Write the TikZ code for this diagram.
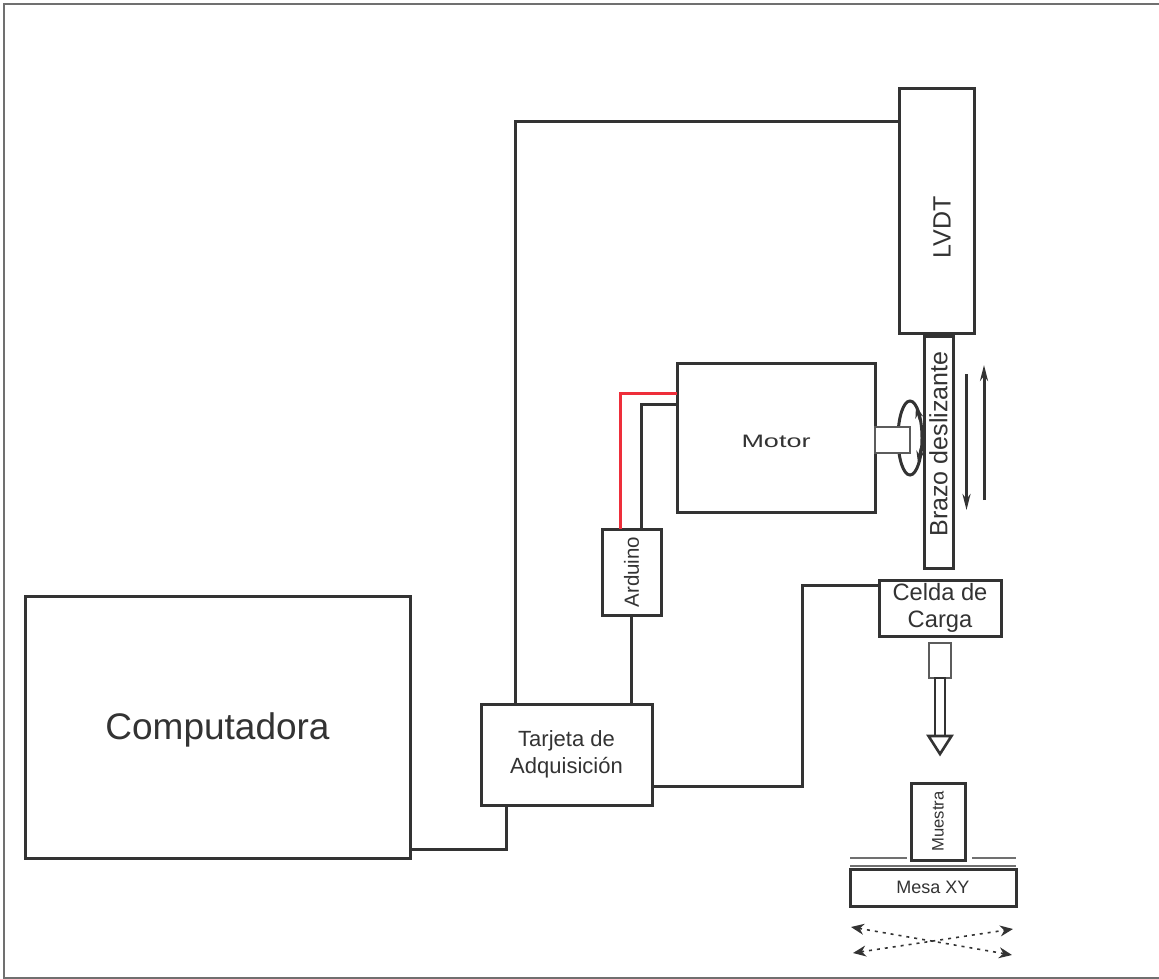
\documentclass[tikz,border=0pt]{standalone}
\usepackage{fontspec}
\setmainfont{Liberation Sans}
\usetikzlibrary{arrows.meta,positioning,shapes.geometric}
\definecolor{ink}{HTML}{333333}
\definecolor{redwire}{HTML}{EE2E3A}
\newcommand{\sz}[1]{\fontsize{#1}{#1}\selectfont}

\begin{document}
\begin{tikzpicture}[
  x=1pt, y=1pt,
  box/.style={draw=ink, line width=3pt, outer sep=0pt, inner sep=0pt, align=center, text=ink, fill=white},
  part/.style={draw=ink!80, line width=1.5pt, outer sep=0pt, inner sep=0pt, fill=white},
  caption/.style={text=ink, inner sep=0pt},
  wire/.style={draw=ink, line width=3pt},
  slide/.style={draw=ink, line width=3pt, -{Stealth[length=16pt, width=8pt]}},
  spin/.style={draw=ink, line width=2.5pt, -{Stealth[length=12pt, width=8pt]}},
  rail/.style={draw=ink!70, line width=1.6pt},
  travel/.style={draw=ink, line width=1.6pt, dash pattern=on 3pt off 5pt, {Stealth[length=13pt, width=11pt]}-{Stealth[length=13pt, width=11pt]}},
]
\useasboundingbox (0,0) rectangle (1159,-979);
% --- frame ---
\node[draw=ink!70, line width=2.5pt, minimum width=1158pt, minimum height=974pt, outer sep=0pt] (frame) at (583,-491) {};
% --- computer and acquisition card ---
\node[box, minimum width=385pt, minimum height=262pt] (comp) at (217.5,-727) {};
\node[caption, font=\sz{37}, yshift=-3pt] (compname) at (comp.center) {Computadora};
\node[box, minimum width=171pt, minimum height=101pt, font=\sz{22}, right=71pt of comp, yshift=-27.5pt] (card) {Tarjeta de\\[5pt]Adquisición};
% --- motor branch ---
\node[box, minimum width=59pt, minimum height=86pt, font=\sz{20.5}, above=89pt of card, xshift=65pt] (arduino) {\rotatebox{90}{Arduino}};
\node[box, minimum width=198pt, minimum height=149pt, right=16pt of arduino, yshift=134.5pt] (motor) {};
\node[caption, font=\sz{18}, yshift=-3.5pt] (motorname) at (motor.center) {\scalebox{1.5}[1]{Motor}};
% --- sensor column ---
\node[box, minimum width=75pt, minimum height=244pt, right=24pt of motor, yshift=226.5pt] (lvdt) {};
\node[caption, font=\sz{25}, rotate=90, xshift=-16.5pt, yshift=-5.5pt] (lvdtname) at (lvdt.center) {LVDT};
\node[box, minimum width=29pt, minimum height=232pt, below=3pt of lvdt, xshift=2pt] (arm) {};
\node[caption, font=\sz{25}, rotate=90, xshift=8pt] (armname) at (arm.center) {Brazo deslizante};
\node[box, minimum width=122pt, minimum height=56pt, font=\sz{23.7}, below=12pt of arm, xshift=1.5pt] (cell) {Celda de\\[3pt]Carga};
\node[part, minimum width=22pt, minimum height=35pt, below=7pt of cell] (tip) {};
\node[box, minimum width=54pt, minimum height=77pt, font=\sz{16.6}, below=105pt of tip, xshift=-2pt] (sample) {\rotatebox{90}{Muestra}};
\node[box, minimum width=166pt, minimum height=37pt, font=\sz{18}, below=9pt of sample, xshift=-5pt] (table) {Mesa XY};
% --- motor shaft ---
\node[draw=ink, line width=3pt, ellipse, minimum width=24pt, minimum height=74pt, inner sep=0pt, outer sep=0pt, right=23pt of motor, yshift=-0.5pt] (rotation) {};
\node[part, minimum width=35pt, minimum height=26pt, right=0pt of motor, yshift=-2.5pt] (shaft) {};
\draw[spin] ([shift={(10,18)}]rotation.center) -- ([shift={(6,32)}]rotation.center);
\draw[spin] ([shift={(11,-10)}]rotation.center) -- ([shift={(8,-25)}]rotation.center);
% --- wires ---
\draw[wire] ([yshift=89pt]lvdt.west) -| ([xshift=-51.5pt]card.north);
\draw[wire] (arduino.south) -- (arduino.south |- card.north);
\draw[wire] ([xshift=9.5pt]arduino.north) |- ([yshift=33.5pt]motor.west);
\draw[wire, draw=redwire] ([xshift=-11.5pt]arduino.north) |- ([yshift=44.5pt]motor.west);
\draw[wire] ([yshift=23pt]cell.west) -- ++(-77,0) |- ([yshift=-31.5pt]card.east);
\draw[wire] ([yshift=-122pt]comp.east) -| ([xshift=-60.5pt]card.south);
% --- arm travel ---
\draw[slide] ([shift={(28,78)}]arm.center) -- ([shift={(28,-58)}]arm.center);
\draw[slide] ([shift={(45.5,-48)}]arm.center) -- ([shift={(45.5,87)}]arm.center);
% --- load arrow ---
\draw[wire, line width=2.6pt, fill=white] ([xshift=-5pt]tip.south) rectangle ([shift={(5,-59)}]tip.south);
\draw[wire, line width=2.6pt, fill=white] ([shift={(-11.5,-58)}]tip.south) -- ([shift={(11.5,-58)}]tip.south) -- ([yshift=-76pt]tip.south) -- cycle;
% --- table rails and travel ---
\draw[rail] ([yshift=11pt]table.north west) -- ([shift={(-4,2)}]sample.south west);
\draw[rail] ([shift={(7,2)}]sample.south east) -- ([yshift=11pt]table.north east);
\draw[rail] ([yshift=3pt]table.north west) -- ([yshift=3pt]table.north east);
\draw[travel] ([shift={(1,-21)}]table.south west) -- ([shift={(-4,-49)}]table.south east);
\draw[travel] ([shift={(3,-47)}]table.south west) -- ([shift={(-3,-23)}]table.south east);
\end{tikzpicture}
\end{document}
